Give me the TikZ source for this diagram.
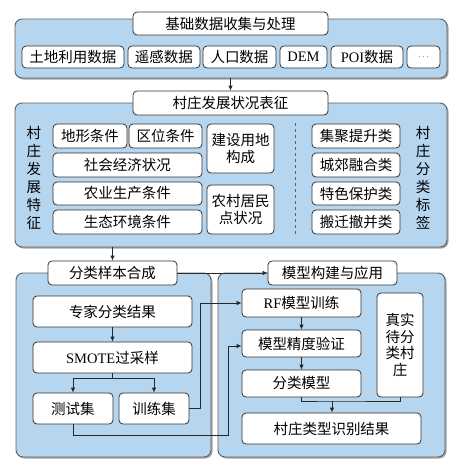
\documentclass[tikz,border=0pt]{standalone}
\usepackage{fontspec}
\setmainfont{Liberation Serif}
\newfontfamily\cjk{Noto Sans CJK SC}
\usetikzlibrary{arrows.meta}
\definecolor{panelblue}{RGB}{182,213,239}
\definecolor{panelline}{RGB}{95,95,95}
\definecolor{boxline}{RGB}{50,50,50}
\definecolor{lineclr}{RGB}{40,40,40}
\begin{document}
\begin{tikzpicture}[x=1pt,y=-1pt,
 box/.style={draw=boxline, fill=white, rounded corners=4pt, line width=0.8pt, inner sep=0pt,
   font=\fontsize{14.5}{17}\selectfont\cjk, align=center},
 panel/.style={draw=panelline, fill=panelblue, rounded corners=7pt, line width=0.9pt, inner sep=0pt},
 vlabel/.style={inner sep=0pt, align=center, font=\fontsize{14.5}{18}\selectfont\cjk},
 arr/.style={draw=lineclr, line width=0.8pt, -{Latex[length=5pt,width=4.5pt]}},
 ln/.style={draw=lineclr, line width=0.8pt}]
\useasboundingbox (0,0) rectangle (454,467);

% shadows of panels
\fill[gray!70, rounded corners=7pt] (16.5,20.5) rectangle (448.5,79.5);
\fill[gray!70, rounded corners=7pt] (16.5,104.5) rectangle (448.5,248.5);
\fill[gray!70, rounded corners=7pt] (17.5,274.5) rectangle (212.5,458.5);
\fill[gray!70, rounded corners=7pt] (219.5,274.5) rectangle (446.5,458.5);

% panels
\node[panel, minimum width=432pt, minimum height=59pt] (p1) at (231,48.5) {};
\node[panel, minimum width=432pt, minimum height=144pt] (p2) at (231,175) {};
\node[panel, minimum width=195pt, minimum height=184pt] (p3) at (113.5,365) {};
\node[panel, minimum width=227pt, minimum height=184pt] (p4) at (331.5,365) {};

% top panel
\node[box, minimum width=195pt, minimum height=23pt] (t1) at (230.5,23.5) {基础数据收集与处理};
\node[box, minimum width=102pt, minimum height=22pt] (d1) at (73,57) {土地利用数据};
\node[box, minimum width=72pt, minimum height=22pt] (d2) at (164,57) {遥感数据};
\node[box, minimum width=73pt, minimum height=22pt] (d3) at (239.5,57) {人口数据};
\node[box, minimum width=47pt, minimum height=22pt] (d4) at (303.5,57) {\rmfamily DEM};
\node[box, minimum width=72pt, minimum height=22pt] (d5) at (367,57) {{\rmfamily POI}数据};
\node[box, minimum width=33pt, minimum height=22pt] (d6) at (423.5,57) {\rmfamily\fontsize{9}{10}\selectfont $\cdots$};

% second panel
\node[box, minimum width=195pt, minimum height=24pt] (t2) at (230.5,103) {村庄发展状况表征};
\node[vlabel] (lv) at (34,177.5) {村\\庄\\发\\展\\特\\征};
\node[vlabel] (rv) at (423,177.5) {村\\庄\\分\\类\\标\\签};
\node[box, minimum width=74pt, minimum height=24pt] (f1) at (90,136) {地形条件};
\node[box, minimum width=73pt, minimum height=24pt] (f2) at (165.5,136) {区位条件};
\node[box, minimum width=149pt, minimum height=24pt] (f3) at (127.5,165) {社会经济状况};
\node[box, minimum width=149pt, minimum height=23pt] (f4) at (127.5,193.5) {农业生产条件};
\node[box, minimum width=149pt, minimum height=24pt] (f5) at (127.5,222) {生态环境条件};
\node[box, minimum width=67pt, minimum height=49pt, font=\fontsize{14.5}{17}\selectfont\cjk] (f6) at (240.5,148.5) {建设用地\\构成};
\node[box, minimum width=67pt, minimum height=49pt, font=\fontsize{14.5}{17}\selectfont\cjk] (f7) at (240.5,209.5) {农村居民\\点状况};
\draw[panelline, line width=0.8pt, dash pattern=on 3pt off 3pt] (295,123) -- (295,235);
\node[box, minimum width=88pt, minimum height=24pt] (c1) at (356,136) {集聚提升类};
\node[box, minimum width=88pt, minimum height=24pt] (c2) at (356,165) {城郊融合类};
\node[box, minimum width=88pt, minimum height=23pt] (c3) at (356,193.5) {特色保护类};
\node[box, minimum width=88pt, minimum height=24pt] (c4) at (356,222) {搬迁撤并类};

% bottom left panel
\node[box, minimum width=129pt, minimum height=24pt] (t3) at (112.5,273) {分类样本合成};
\node[box, minimum width=159pt, minimum height=31pt] (e1) at (112.5,311.5) {专家分类结果};
\node[box, minimum width=159pt, minimum height=31pt] (e2) at (112.5,357.5) {{\rmfamily SMOTE}过采样};
\node[box, minimum width=80pt, minimum height=31pt] (e3) at (73,408.5) {测试集};
\node[box, minimum width=70pt, minimum height=31pt] (e4) at (154,408.5) {训练集};

% bottom right panel
\node[box, minimum width=129pt, minimum height=24pt] (t4) at (332.5,273) {模型构建与应用};
\node[box, minimum width=119pt, minimum height=28pt] (m1) at (301.5,303) {{\rmfamily RF}模型训练};
\node[box, minimum width=119pt, minimum height=27pt] (m2) at (301.5,343.5) {模型精度验证};
\node[box, minimum width=119pt, minimum height=27pt] (m3) at (301.5,383.5) {分类模型};
\node[box, minimum width=46pt, minimum height=104pt, font=\fontsize{14.5}{16.5}\selectfont\cjk] (z) at (400,345) {真实\\待分\\类村\\庄};
\node[box, minimum width=179pt, minimum height=31pt] (r) at (331.5,428.5) {村庄类型识别结果};

% connectors
\coordinate (split) at (112.5,378);
\coordinate (merge) at (332,401);
\draw[arr] (p1.south -| t2.north) -- (t2.north);
\draw[arr] (p2.south -| t3.north) -- (t3.north);
\draw[arr] (t3.east) -- (t4.west);
\draw[arr] (e1.south) -- (e2.north);
\draw[ln] (e2.south) -- (split);
\draw[arr] (split) -| (e3.north);
\draw[arr] (split) -| (e4.north);
\draw[arr] (e4.east) -- (200,408.5) |- (m1.west);
\draw[arr] (e3.south) -- (73,435) -| (228,346) -- ([yshift=-2.5pt]m2.west);
\draw[arr] (m1.south) -- (m2.north);
\draw[arr] (m2.south) -- (m3.north);
\draw[ln] (m3.south) |- (merge) -| (z.south);
\draw[arr] (merge) -- (r.north -| merge);
\end{tikzpicture}
\end{document}
